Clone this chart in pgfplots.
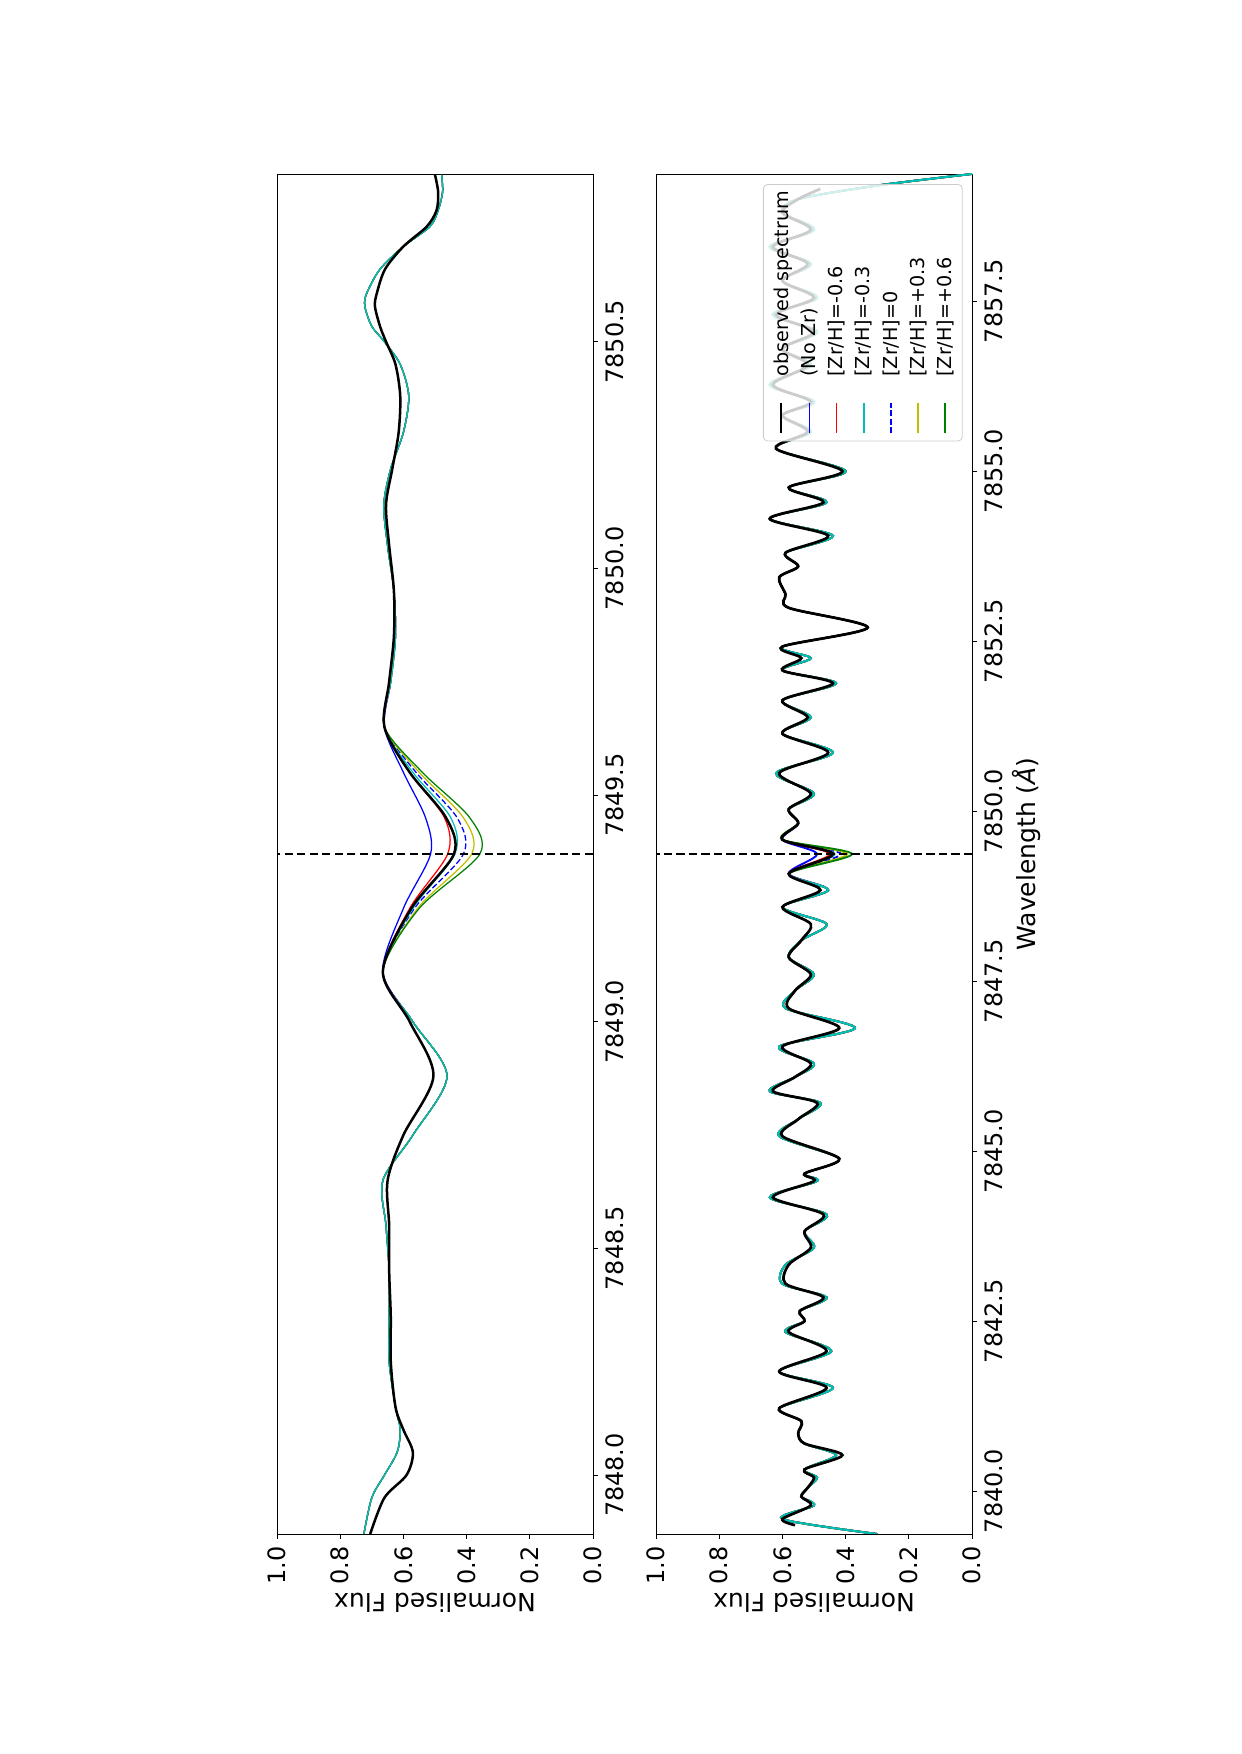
\documentclass[border=0pt]{standalone}
\usepackage{fontspec}
\setmainfont{DejaVu Sans}
\usepackage{pgfplots}
\usepackage{pgfplotstable}
\pgfplotsset{compat=1.18}
\definecolor{mplc}{rgb}{0,0.75,0.75}
\definecolor{mply}{rgb}{0.75,0.75,0}
\definecolor{mplg}{rgb}{0,0.5,0}

\pgfplotstableread{
wl flux
7847.87 0.705
7847.95 0.660
7848.00 0.590
7848.05 0.570
7848.10 0.600
7848.15 0.625
7848.25 0.640
7848.35 0.640
7848.45 0.645
7848.55 0.645
7848.65 0.650
7848.75 0.600
7848.88 0.505
7849.00 0.580
7849.11 0.665
7849.25 0.575
7849.37 0.440
7849.45 0.465
7849.55 0.580
7849.65 0.660
7849.75 0.645
7849.85 0.630
7849.95 0.630
7850.05 0.645
7850.14 0.655
7850.22 0.635
7850.30 0.615
7850.38 0.610
7850.45 0.625
7850.50 0.655
7850.534 0.674
7850.578 0.690
7850.607 0.684
7850.66 0.658
7850.71 0.600
7850.754 0.526
7850.79 0.495
7850.83 0.490
7850.868 0.500
}\topobs

\pgfplotstableread{
wl nozr m06 m03 z0 p03 p06
7847.87 0.725 0.725 0.725 0.725 0.725 0.725
7847.95 0.700 0.700 0.700 0.700 0.700 0.700
7848.00 0.660 0.660 0.660 0.660 0.660 0.660
7848.05 0.620 0.620 0.620 0.620 0.620 0.620
7848.10 0.610 0.610 0.610 0.610 0.610 0.610
7848.15 0.625 0.625 0.625 0.625 0.625 0.625
7848.25 0.645 0.645 0.645 0.645 0.645 0.645
7848.35 0.645 0.645 0.645 0.645 0.645 0.645
7848.45 0.645 0.645 0.645 0.645 0.645 0.645
7848.55 0.655 0.655 0.655 0.655 0.655 0.655
7848.65 0.665 0.665 0.665 0.665 0.665 0.665
7848.75 0.570 0.570 0.570 0.570 0.570 0.570
7848.88 0.462 0.462 0.462 0.462 0.462 0.462
7849.00 0.570 0.570 0.570 0.570 0.570 0.570
7849.11 0.665 0.665 0.665 0.665 0.665 0.665
7849.25 0.600 0.580 0.570 0.565 0.555 0.550
7849.37 0.514 0.460 0.437 0.410 0.384 0.358
7849.45 0.530 0.470 0.450 0.430 0.410 0.390
7849.55 0.600 0.580 0.570 0.560 0.550 0.540
7849.65 0.660 0.660 0.660 0.660 0.660 0.660
7849.75 0.640 0.640 0.640 0.640 0.640 0.640
7849.85 0.625 0.625 0.625 0.625 0.625 0.625
7849.95 0.630 0.630 0.630 0.630 0.630 0.630
7850.05 0.650 0.650 0.650 0.650 0.650 0.650
7850.14 0.662 0.662 0.662 0.662 0.662 0.662
7850.22 0.640 0.640 0.640 0.640 0.640 0.640
7850.30 0.600 0.600 0.600 0.600 0.600 0.600
7850.38 0.583 0.583 0.583 0.583 0.583 0.583
7850.45 0.610 0.610 0.610 0.610 0.610 0.610
7850.50 0.660 0.660 0.660 0.660 0.660 0.660
7850.534 0.700 0.700 0.700 0.700 0.700 0.700
7850.578 0.722 0.722 0.722 0.722 0.722 0.722
7850.607 0.716 0.716 0.716 0.716 0.716 0.716
7850.66 0.674 0.674 0.674 0.674 0.674 0.674
7850.71 0.600 0.600 0.600 0.600 0.600 0.600
7850.754 0.516 0.516 0.516 0.516 0.516 0.516
7850.79 0.490 0.490 0.490 0.490 0.490 0.490
7850.83 0.476 0.476 0.476 0.476 0.476 0.476
7850.868 0.479 0.479 0.479 0.479 0.479 0.479
}\topmod

\pgfplotstableread{
wl flux
7839.50 0.560
7839.59 0.600
7839.79 0.510
7839.92 0.540
7840.05 0.520
7840.20 0.500
7840.32 0.530
7840.53 0.410
7840.70 0.530
7840.85 0.550
7841.03 0.540
7841.22 0.610
7841.52 0.460
7841.76 0.610
7842.06 0.460
7842.34 0.580
7842.50 0.530
7842.65 0.545
7842.85 0.470
7843.05 0.590
7843.33 0.580
7843.58 0.510
7843.82 0.530
7844.07 0.470
7844.32 0.630
7844.56 0.500
7844.67 0.530
7844.89 0.420
7845.22 0.600
7845.47 0.550
7845.71 0.490
7845.88 0.630
7846.09 0.560
7846.29 0.510
7846.54 0.600
7846.81 0.420
7847.10 0.580
7847.36 0.560
7847.60 0.510
7847.85 0.580
7848.10 0.540
7848.34 0.510
7848.59 0.600
7848.84 0.480
7849.08 0.580
7849.37 0.440
7849.58 0.600
7849.82 0.550
7850.03 0.580
7850.26 0.510
7850.56 0.610
7850.86 0.455
7851.14 0.600
7851.38 0.520
7851.63 0.600
7851.88 0.440
7852.07 0.600
7852.25 0.540
7852.42 0.600
7852.70 0.330
7852.99 0.580
7853.19 0.590
7853.44 0.610
7853.60 0.550
7853.80 0.590
7854.05 0.455
7854.30 0.640
7854.54 0.470
7854.76 0.580
7855.00 0.410
7855.33 0.620
7855.58 0.520
7855.82 0.600
7856.02 0.510
7856.27 0.630
7856.56 0.520
7856.80 0.600
7857.05 0.500
7857.30 0.620
7857.55 0.500
7857.80 0.600
7858.05 0.520
7858.30 0.630
7858.55 0.510
7858.80 0.600
7859.00 0.550
7859.15 0.480
}\botobs

\pgfplotstableread{
wl nozr m06 m03 z0 p03 p06
7839.37 0.300 0.300 0.300 0.300 0.300 0.300
7839.59 0.600 0.600 0.600 0.600 0.600 0.600
7839.79 0.500 0.500 0.500 0.500 0.500 0.500
7839.92 0.540 0.540 0.540 0.540 0.540 0.540
7840.05 0.520 0.520 0.520 0.520 0.520 0.520
7840.20 0.490 0.490 0.490 0.490 0.490 0.490
7840.32 0.530 0.530 0.530 0.530 0.530 0.530
7840.53 0.430 0.430 0.430 0.430 0.430 0.430
7840.70 0.530 0.530 0.530 0.530 0.530 0.530
7840.85 0.550 0.550 0.550 0.550 0.550 0.550
7841.03 0.540 0.540 0.540 0.540 0.540 0.540
7841.22 0.610 0.610 0.610 0.610 0.610 0.610
7841.52 0.440 0.440 0.440 0.440 0.440 0.440
7841.76 0.610 0.610 0.610 0.610 0.610 0.610
7842.06 0.445 0.445 0.445 0.445 0.445 0.445
7842.34 0.590 0.590 0.590 0.590 0.590 0.590
7842.50 0.530 0.530 0.530 0.530 0.530 0.530
7842.65 0.545 0.545 0.545 0.545 0.545 0.545
7842.85 0.460 0.460 0.460 0.460 0.460 0.460
7843.05 0.600 0.600 0.600 0.600 0.600 0.600
7843.33 0.590 0.590 0.590 0.590 0.590 0.590
7843.58 0.500 0.500 0.500 0.500 0.500 0.500
7843.82 0.530 0.530 0.530 0.530 0.530 0.530
7844.07 0.460 0.460 0.460 0.460 0.460 0.460
7844.32 0.640 0.640 0.640 0.640 0.640 0.640
7844.56 0.490 0.490 0.490 0.490 0.490 0.490
7844.67 0.530 0.530 0.530 0.530 0.530 0.530
7844.89 0.420 0.420 0.420 0.420 0.420 0.420
7845.22 0.610 0.610 0.610 0.610 0.610 0.610
7845.47 0.550 0.550 0.550 0.550 0.550 0.550
7845.71 0.480 0.480 0.480 0.480 0.480 0.480
7845.88 0.640 0.640 0.640 0.640 0.640 0.640
7846.09 0.560 0.560 0.560 0.560 0.560 0.560
7846.29 0.500 0.500 0.500 0.500 0.500 0.500
7846.54 0.610 0.610 0.610 0.610 0.610 0.610
7846.81 0.370 0.370 0.370 0.370 0.370 0.370
7847.10 0.590 0.590 0.590 0.590 0.590 0.590
7847.36 0.560 0.560 0.560 0.560 0.560 0.560
7847.60 0.500 0.500 0.500 0.500 0.500 0.500
7847.85 0.580 0.580 0.580 0.580 0.580 0.580
7848.10 0.540 0.540 0.540 0.540 0.540 0.540
7848.34 0.460 0.460 0.460 0.460 0.460 0.460
7848.59 0.600 0.600 0.600 0.600 0.600 0.600
7848.84 0.455 0.455 0.455 0.455 0.455 0.455
7849.08 0.580 0.580 0.580 0.580 0.580 0.580
7849.37 0.490 0.450 0.435 0.415 0.395 0.380
7849.58 0.600 0.600 0.600 0.600 0.600 0.600
7849.82 0.550 0.550 0.550 0.550 0.550 0.550
7850.03 0.580 0.580 0.580 0.580 0.580 0.580
7850.26 0.500 0.500 0.500 0.500 0.500 0.500
7850.56 0.620 0.620 0.620 0.620 0.620 0.620
7850.86 0.440 0.440 0.440 0.440 0.440 0.440
7851.14 0.600 0.600 0.600 0.600 0.600 0.600
7851.38 0.510 0.510 0.510 0.510 0.510 0.510
7851.63 0.600 0.600 0.600 0.600 0.600 0.600
7851.88 0.430 0.430 0.430 0.430 0.430 0.430
7852.07 0.600 0.600 0.600 0.600 0.600 0.600
7852.25 0.510 0.510 0.510 0.510 0.510 0.510
7852.42 0.600 0.600 0.600 0.600 0.600 0.600
7852.70 0.330 0.330 0.330 0.330 0.330 0.330
7852.99 0.580 0.580 0.580 0.580 0.580 0.580
7853.19 0.590 0.590 0.590 0.590 0.590 0.590
7853.44 0.610 0.610 0.610 0.610 0.610 0.610
7853.60 0.550 0.550 0.550 0.550 0.550 0.550
7853.80 0.590 0.590 0.590 0.590 0.590 0.590
7854.05 0.440 0.440 0.440 0.440 0.440 0.440
7854.30 0.640 0.640 0.640 0.640 0.640 0.640
7854.54 0.460 0.460 0.460 0.460 0.460 0.460
7854.76 0.580 0.580 0.580 0.580 0.580 0.580
7855.00 0.400 0.400 0.400 0.400 0.400 0.400
7855.33 0.620 0.620 0.620 0.620 0.620 0.620
7855.58 0.510 0.510 0.510 0.510 0.510 0.510
7855.82 0.600 0.600 0.600 0.600 0.600 0.600
7856.02 0.500 0.500 0.500 0.500 0.500 0.500
7856.27 0.640 0.640 0.640 0.640 0.640 0.640
7856.56 0.510 0.510 0.510 0.510 0.510 0.510
7856.80 0.600 0.600 0.600 0.600 0.600 0.600
7857.05 0.490 0.490 0.490 0.490 0.490 0.490
7857.30 0.630 0.630 0.630 0.630 0.630 0.630
7857.55 0.490 0.490 0.490 0.490 0.490 0.490
7857.80 0.600 0.600 0.600 0.600 0.600 0.600
7858.05 0.510 0.510 0.510 0.510 0.510 0.510
7858.30 0.640 0.640 0.640 0.640 0.640 0.640
7858.55 0.500 0.500 0.500 0.500 0.500 0.500
7858.80 0.600 0.600 0.600 0.600 0.600 0.600
7859.00 0.550 0.550 0.550 0.550 0.550 0.550
7859.20 0.300 0.300 0.300 0.300 0.300 0.300
7859.37 0.000 0.000 0.000 0.000 0.000 0.000
}\botmod

\pgfplotsset{
  panel/.style={
    scale only axis,
    width=151.68bp, height=652.8bp,
    anchor=south west,
    xmin=0, xmax=1, x dir=reverse,
    xtick={0,0.2,0.4,0.6,0.8,1.0},
    axis line style={line width=0.45bp},
    tick style={line width=0.45bp, black},
    major tick length=2.4bp,
    tick align=outside,
    xtick pos=bottom, ytick pos=right,
    yticklabel pos=right,
    /pgf/number format/assume math mode=true,
    /pgf/number format/.cd, fixed, fixed zerofill, precision=1, 1000 sep={},
    /pgfplots/.cd,
    ticklabel style={font=\fontsize{11.5bp}{13bp}\selectfont},
    xticklabel style={rotate=90, anchor=east},
    yticklabel style={rotate=90, anchor=north},
    every axis x label/.style={at={(axis description cs:0.5,-0.0506)}, anchor=center, rotate=180,
      font=\fontsize{12bp}{14bp}\selectfont},
    clip=true,
  },
  modelline/.style={line width=0.6bp, smooth},
}

\begin{document}
\begin{tikzpicture}
\path[use as bounding box] (0bp,0bp) rectangle (595.68bp,841.92bp);

\begin{axis}[panel, at={(132.96bp,105.6bp)},
  ymin=7847.87, ymax=7850.87,
  ytick={7848.0,7848.5,7849.0,7849.5,7850.0,7850.5},
  xlabel={Normalised Flux}]
  \addplot[blue, modelline] table[x=nozr, y=wl] {\topmod};
  \addplot[red, modelline] table[x=m06, y=wl] {\topmod};
  \addplot[blue, dash pattern=on 2.8bp off 1.3bp, modelline] table[x=z0, y=wl] {\topmod};
  \addplot[mply, modelline] table[x=p03, y=wl] {\topmod};
  \addplot[mplg, modelline] table[x=p06, y=wl] {\topmod};
  \addplot[mplc, modelline] table[x=m03, y=wl] {\topmod};
  \addplot[black, line width=1.2bp, smooth] table[x=flux, y=wl] {\topobs};
  \addplot[black, dash pattern=on 4bp off 2bp, line width=0.9bp] coordinates {(0,7849.37) (1,7849.37)};
\end{axis}

\begin{axis}[panel, at={(314.88bp,105.6bp)},
  ymin=7839.37, ymax=7859.37,
  ytick={7840.0,7842.5,7845.0,7847.5,7850.0,7852.5,7855.0,7857.5},
  xlabel={Normalised Flux},
  ylabel={Wavelength ({\itshape Å})},
  every axis y label/.style={at={(axis description cs:1.174,0.5)}, anchor=center, rotate=90,
    font=\fontsize{12bp}{14bp}\selectfont},
  legend columns=-1,
  legend cell align=left,
  legend image code/.code={\path (0bp,0bp); \draw[#1, overlay, line width=0.8bp] (6.3bp,0bp) -- (6.3bp,14.4bp);},
  legend style={at={(0.3386,0.9926)}, anchor=north west,
    draw=black!20, fill=white, fill opacity=0.8, text opacity=1, rounded corners=2bp,
    font=\fontsize{9.2bp}{11bp}\selectfont, column sep=0bp, inner xsep=1.6bp, inner ysep=3.1bp,
    nodes={rotate=90, anchor=west, inner sep=0bp, minimum height=12.65bp,
      execute at begin node={\hspace*{27bp}}}},
  ]
  \addplot[forget plot, blue, modelline, line width=0.9bp] table[x=nozr, y=wl] {\botmod};
  \addplot[forget plot, red, modelline, line width=0.9bp] table[x=m06, y=wl] {\botmod};
  \addplot[forget plot, blue, dash pattern=on 2.8bp off 1.3bp, modelline, line width=0.9bp] table[x=z0, y=wl] {\botmod};
  \addplot[forget plot, mply, modelline, line width=0.9bp] table[x=p03, y=wl] {\botmod};
  \addplot[forget plot, mplg, modelline, line width=0.9bp] table[x=p06, y=wl] {\botmod};
  \addplot[forget plot, mplc, modelline, line width=0.9bp] table[x=m03, y=wl] {\botmod};
  \addplot[forget plot, black, line width=1.3bp, smooth] table[x=flux, y=wl] {\botobs};
  \addplot[forget plot, black, dash pattern=on 4bp off 2bp, line width=0.9bp] coordinates {(0,7849.37) (1,7849.37)};
  \addlegendimage{black, line width=1.3bp}
  \addlegendentry{observed spectrum}
  \addlegendimage{blue}
  \addlegendentry{(No Zr)}
  \addlegendimage{red}
  \addlegendentry{[Zr/H]=-0.6}
  \addlegendimage{mplc}
  \addlegendentry{[Zr/H]=-0.3}
  \addlegendimage{blue, dash pattern=on 2.8bp off 1.3bp}
  \addlegendentry{[Zr/H]=0}
  \addlegendimage{mply}
  \addlegendentry{[Zr/H]=+0.3}
  \addlegendimage{mplg}
  \addlegendentry{[Zr/H]=+0.6}
\end{axis}
\end{tikzpicture}
\end{document}
